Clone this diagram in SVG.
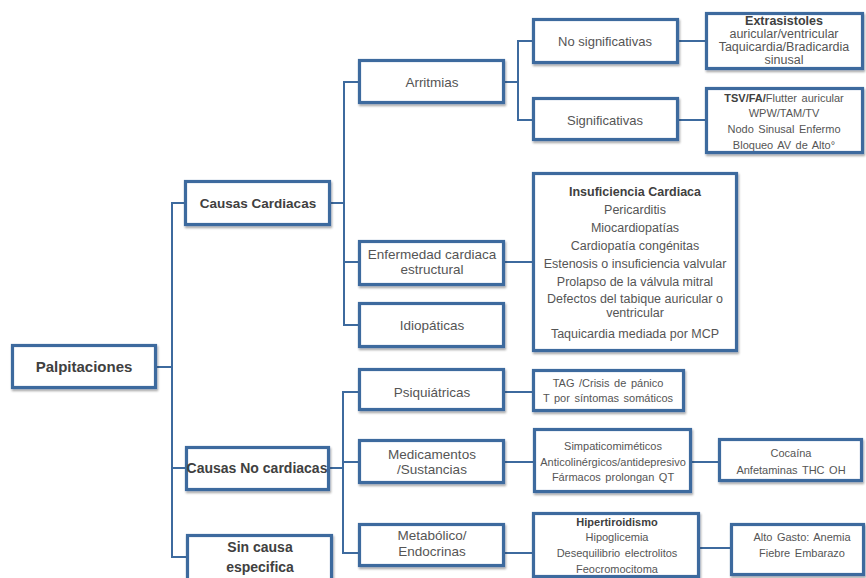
<svg xmlns="http://www.w3.org/2000/svg" width="866" height="578" viewBox="0 0 866 578">
<defs>
<filter id="sh" x="-10%" y="-10%" width="130%" height="140%">
<feDropShadow dx="1" dy="2" stdDeviation="1.3" flood-color="#000" flood-opacity="0.35"/>
</filter>
<style>
.box{fill:#fff;stroke:#3d6a9e;stroke-width:3.2;filter:url(#sh)}
.con{fill:none;stroke:#3d6a9e;stroke-width:2}
text{font-family:"Liberation Sans",Arial,sans-serif;text-anchor:middle;fill:#555}
.b{font-weight:bold;fill:#404040}
.l1{font-size:14px}
.l2{font-size:13.5px}
.d{font-size:12.5px}
.s{font-size:11px;word-spacing:1.5px}
</style>
</defs>
<rect width="866" height="578" fill="#fff"/>
<g id="connectors">
<path class="con" d="M157,367 H172 V203 H184"/>
<path class="con" d="M157,367 H172 V468 H185" stroke-width="3"/>
<path class="con" d="M157,367 H172 V557 H186"/>
<path class="con" d="M331,203 H344 V82 H358"/>
<path class="con" d="M331,203 H344 V262 H358"/>
<path class="con" d="M331,203 H344 V325 H358"/>
<path class="con" d="M505,82 H518 V41 H532"/>
<path class="con" d="M505,82 H518 V120 H532"/>
<path class="con" d="M679,41 H705"/>
<path class="con" d="M679,120 H705"/>
<path class="con" d="M505,262 H532"/>
<path class="con" d="M330,468 H343 V392 H358"/>
<path class="con" d="M330,468 H343 V462 H358"/>
<path class="con" d="M330,468 H343 V553 H358"/>
<path class="con" d="M505,392 H532"/>
<path class="con" d="M505,462 H533"/>
<path class="con" d="M505,553 H532"/>
<path class="con" d="M692,462 H718"/>
<path class="con" d="M700,548 H730"/>
</g>
<g id="palpitaciones">
<rect class="box" x="12.5" y="345.5" width="143" height="42"/>
<text class="b" x="84" y="372" font-size="15">Palpitaciones</text>
</g>
<g id="causas-cardiacas">
<rect class="box" x="185.5" y="181.5" width="144" height="43"/>
<text class="b" x="258" y="208" font-size="13.5">Causas Cardiacas</text>
</g>
<g id="causas-no-cardiacas">
<rect class="box" x="186.5" y="447.5" width="142" height="42"/>
<text class="b l1" x="257" y="473">Causas No cardiacas</text>
</g>
<g id="sin-causa">
<rect class="box" x="187.5" y="535.5" width="144" height="50"/>
<text class="b l1" x="260" y="552">Sin causa</text>
<text class="b l1" x="260" y="572">especifica</text>
</g>
<g id="arritmias">
<rect class="box" x="359.5" y="60.5" width="144" height="42"/>
<text class="l2" x="432" y="87">Arritmias</text>
</g>
<g id="enfermedad">
<rect class="box" x="359.5" y="241.5" width="144" height="43"/>
<text class="l2" x="432" y="259">Enfermedad cardiaca</text>
<text class="l2" x="432" y="274">estructural</text>
</g>
<g id="idiopaticas">
<rect class="box" x="359.5" y="303.5" width="144" height="43"/>
<text class="l2" x="432" y="330">Idiopáticas</text>
</g>
<g id="psiquiatricas">
<rect class="box" x="359.5" y="369.5" width="144" height="40"/>
<text class="l2" x="432" y="397">Psiquiátricas</text>
</g>
<g id="medicamentos">
<rect class="box" x="359.5" y="440.5" width="144" height="42"/>
<text class="l2" x="432" y="459">Medicamentos</text>
<text class="l2" x="432" y="474">/Sustancias</text>
</g>
<g id="metabolico">
<rect class="box" x="359.5" y="524.5" width="144" height="41"/>
<text class="l2" x="432" y="540">Metabólico/</text>
<text class="l2" x="432" y="556">Endocrinas</text>
</g>
<g id="no-significativas">
<rect class="box" x="533.5" y="19.5" width="144" height="43"/>
<text x="605" y="46" font-size="13">No significativas</text>
</g>
<g id="significativas">
<rect class="box" x="533.5" y="98.5" width="144" height="41"/>
<text x="605" y="125" font-size="13">Significativas</text>
</g>
<g id="extrasistoles">
<rect class="box" x="706.5" y="13.5" width="156" height="55"/>
<text class="b d" x="784" y="25">Extrasistoles</text>
<text class="d" x="784" y="38">auricular/ventricular</text>
<text class="d" x="784" y="51">Taquicardia/Bradicardia</text>
<text class="d" x="784" y="64">sinusal</text>
</g>
<g id="signif-detalle">
<rect class="box" x="706.5" y="88.5" width="156" height="64"/>
<text class="s" x="784" y="102"><tspan class="b">TSV/FA/</tspan>Flutter auricular</text>
<text class="s" x="784" y="117">WPW/TAM/TV</text>
<text class="s" x="784" y="133">Nodo Sinusal Enfermo</text>
<text class="s" x="784" y="149">Bloqueo AV de Alto°</text>
</g>
<g id="estructural-detalle">
<rect class="box" x="533.5" y="173.5" width="203" height="177"/>
<text class="b d" x="635" y="196">Insuficiencia Cardiaca</text>
<text class="d" x="635" y="214">Pericarditis</text>
<text class="d" x="635" y="232">Miocardiopatías</text>
<text class="d" x="635" y="250">Cardiopatía congénitas</text>
<text class="d" x="635" y="268">Estenosis o insuficiencia valvular</text>
<text class="d" x="635" y="286">Prolapso de la válvula  mitral</text>
<text class="d" x="635" y="303">Defectos del tabique auricular  o</text>
<text class="d" x="635" y="317">ventricular</text>
<text class="d" x="635" y="338">Taquicardia mediada por MCP</text>
</g>
<g id="psiq-detalle">
<rect class="box" x="533.5" y="370.5" width="150" height="40"/>
<text class="s" x="608" y="387">TAG  /Crisis de pánico</text>
<text class="s" x="608" y="402">T por síntomas somáticos</text>
</g>
<g id="medic-detalle">
<rect class="box" x="534.5" y="429.5" width="156" height="62"/>
<text class="s" x="613" y="450">Simpaticomiméticos</text>
<text x="613" y="466" font-size="11">Anticolinérgicos/antidepresivo</text>
<text class="s" x="613" y="481">Fármacos prolongan QT</text>
</g>
<g id="metab-detalle">
<rect class="box" x="533.5" y="513.5" width="165" height="63"/>
<text class="s b" x="617" y="526">Hipertiroidismo</text>
<text class="s" x="617" y="541">Hipoglicemia</text>
<text class="s" x="617" y="557">Desequilibrio electrolitos</text>
<text class="s" x="617" y="573">Feocromocitoma</text>
</g>
<g id="cocaina">
<rect class="box" x="719.5" y="439.5" width="142" height="41"/>
<text class="s" x="791" y="457">Cocaína</text>
<text class="s" x="791" y="474">Anfetaminas  THC  OH</text>
</g>
<g id="alto-gasto">
<rect class="box" x="731.5" y="524.5" width="132" height="50"/>
<text class="s" x="802" y="541">Alto Gasto:  Anemia</text>
<text class="s" x="802" y="557">Fiebre Embarazo</text>
</g>
</svg>
